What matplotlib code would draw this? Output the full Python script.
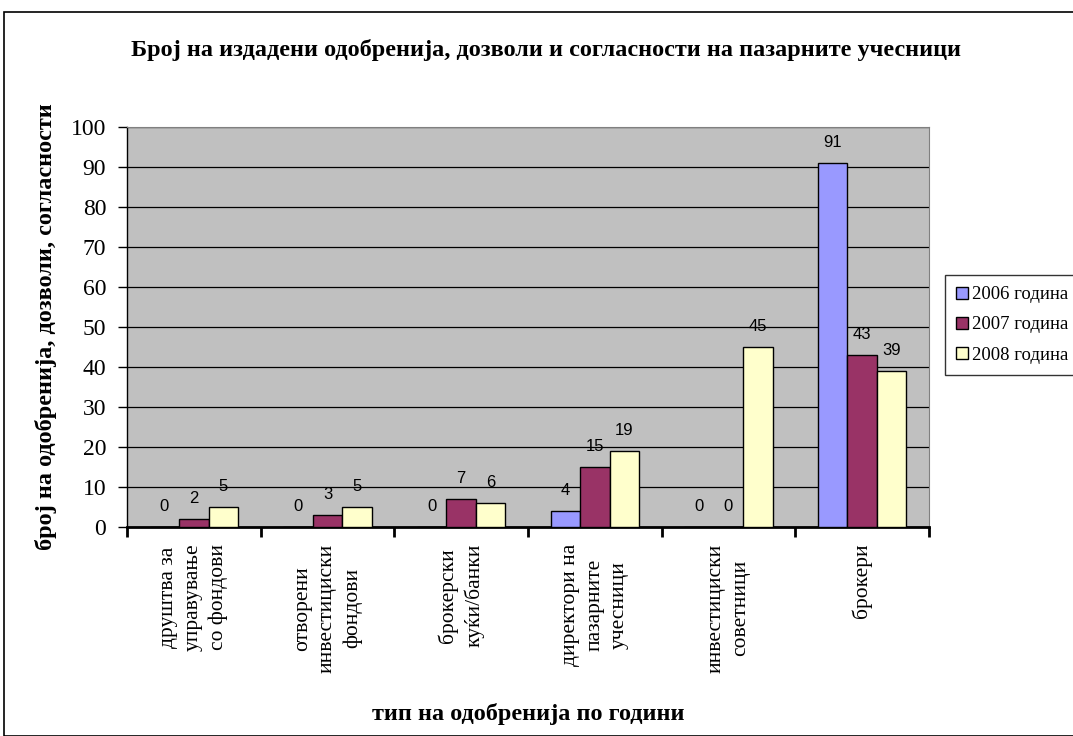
import matplotlib.pyplot as plt
import numpy as np
from matplotlib.patches import Rectangle

categories = [
    "друштва за\nуправување\nсо фондови",
    "отворени\nинвестициски\nфондови",
    "брокерски\nкуќи/банки",
    "директори на\nпазарните\nучесници",
    "инвестициски\nсоветници",
    "брокери",
]
series_names = ["2006 година", "2007 година", "2008 година"]
values_2006 = [0, 0, 0, 4, 0, 91]
values_2007 = [2, 3, 7, 15, 0, 43]
values_2008 = [5, 5, 6, 19, 45, 39]

colors = ["#9999FF", "#993366", "#FFFFCC"]

serif = ["Liberation Serif", "DejaVu Serif"]
sans = ["Liberation Sans", "DejaVu Sans"]

fig = plt.figure(figsize=(10.73, 7.36), dpi=100)
ax = fig.add_axes([127 / 1073, 1 - 527 / 736, (929 - 127) / 1073, 400 / 736])
ax.set_facecolor("#C0C0C0")

# outer chart border
fig.patches.append(Rectangle((4 / 1073, 0.5 / 736), 1.2, (724 - 0.5) / 736,
                             transform=fig.transFigure, fill=False,
                             edgecolor="black", linewidth=1.2))

x = np.arange(len(categories))
w = 0.22
all_vals = [values_2006, values_2007, values_2008]
for i, (vals, name, c) in enumerate(zip(all_vals, series_names, colors)):
    pos = x + (i - 1) * w
    ax.bar(pos, vals, width=w, color=c, edgecolor="black", linewidth=1.0,
           label=name, zorder=3)
    for px, v in zip(pos, vals):
        ax.annotate(str(v), (px, v), xytext=(0, 15), textcoords="offset points",
                    ha="center", va="center", fontsize=12, family=sans)

ax.set_ylim(0, 100)
ax.set_xlim(-0.5, len(categories) - 0.5)
ax.set_yticks(range(0, 101, 10))
ax.yaxis.grid(True, color="black", linewidth=0.9)
ax.set_axisbelow(True)
ax.tick_params(axis="y", labelsize=17, length=6.5, direction="out", width=1, pad=8.5)
for lab in ax.get_yticklabels():
    lab.set_family(serif)

ax.set_xticks(x)
ax.set_xticklabels(categories, rotation=90, fontsize=15.5, family=serif,
                   va="top", ha="center", multialignment="center",
                   linespacing=1.4)
ax.tick_params(axis="x", length=0, pad=12)
ax.set_xticks(np.arange(-0.5, len(categories), 1), minor=True)
ax.tick_params(axis="x", which="minor", length=7, width=2, direction="out")

for s in ["top", "right"]:
    ax.spines[s].set_color("#808080")
ax.spines["bottom"].set_linewidth(2)
ax.spines["left"].set_linewidth(1)

ax.set_ylabel("број на одобренија, дозволи, согласности", fontsize=17.5,
              fontweight="bold", family=serif)
ax.yaxis.set_label_coords(-(127 - 57) / 802, 0.5)
ax.set_xlabel("тип на одобренија по години", fontsize=17.5, fontweight="bold",
              family=serif)
ax.xaxis.set_label_coords(0.5, -(703 - 527) / 400)
fig.text(546 / 1073, 1 - 50 / 736,
         "Број на издадени одобренија, дозволи и согласности на пазарните учесници",
         ha="center", va="center", fontsize=17.5, fontweight="bold", family=serif)

leg = ax.legend(loc="upper left", bbox_to_anchor=(945 / 1073, 1 - 275 / 736),
                bbox_transform=fig.transFigure, prop={"family": serif, "size": 13.5},
                frameon=True, fancybox=False, edgecolor="black",
                handlelength=0.6, handleheight=0.6, handletextpad=0.25,
                borderpad=0.6, labelspacing=0.7, borderaxespad=0)
leg.get_frame().set_linewidth(1)

fig.savefig("out.png", dpi=100)
